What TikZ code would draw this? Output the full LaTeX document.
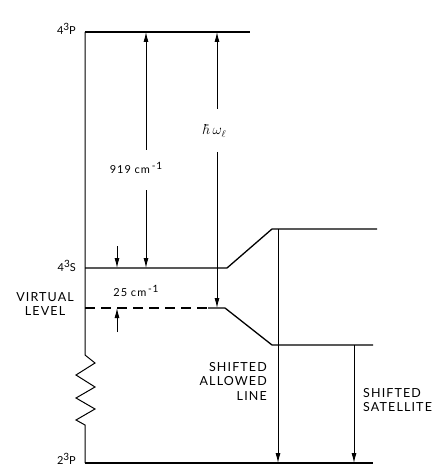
\documentclass[tikz,border=0pt]{standalone}
\usepackage{fontspec}
\setmainfont{Lato}
\newfontfamily\spfont[LetterSpace=9]{Lato}
\newcommand{\hsup}[1]{\raisebox{4pt}{\fontsize{10}{10}\selectfont #1}}
\usetikzlibrary{arrows.meta}
\tikzset{
  lvl/.style={line width=1.3pt},
  ln/.style={line width=1pt},
  arr/.style={line width=0.9pt,-{Latex[length=10pt,width=5pt]}},
  lbl/.style={font=\spfont\fontsize{12.5}{14.5}\selectfont, inner sep=0pt, align=center},
  slbl/.style={font=\spfont\fontsize{11}{13}\selectfont, inner sep=0pt},
}
\begin{document}
\begin{tikzpicture}[x=1pt,y=-1pt]
\useasboundingbox (0,0) rectangle (439,465);
% key coordinates
\coordinate (PL) at (85,32);
\coordinate (PR) at (250,32);
\coordinate (SL) at (85,268);
\coordinate (SK) at (227,268);
\coordinate (SU) at (272,229);
\coordinate (SR) at (377,229);
\coordinate (VL) at (85,308);
\coordinate (VD) at (208,308);
\coordinate (VK) at (225,308);
\coordinate (VU) at (272,345);
\coordinate (VR) at (373,345);
\coordinate (BL) at (85,463);
\coordinate (BR) at (373,463);
% levels
\draw[lvl] (PL) -- (PR);
\draw[lvl] (SL) -- (SK) -- (SU) -- (SR);
\draw[lvl,dash pattern=on 10pt off 6pt] (VL) -- (VD);
\draw[lvl] (VD) -- (VK) -- (VU) -- (VR);
\draw[lvl] (BL) -- (BR);
% left vertical with zigzag
\draw[ln] (PL) -- (85,355) -- (95,363) -- (76,375) -- (95,387) -- (76,398) -- (95,409) -- (76,420) -- (85,425) -- (BL);
% level labels
\node[slbl,anchor=base east] (lP) at (76,35) {4\hsup{3}P};
\node[slbl,anchor=base east] (lS) at (76,271) {4\hsup{3}S};
\node[lbl,anchor=east] (lV) at (74,304) {VIRTUAL\\LEVEL};
\node[slbl,anchor=base east] (lB) at (76,464) {2\hsup{3}P};
% 919 arrow
\node[slbl] (n919) at (136,168) {919 cm\,\hsup{-1}};
\coordinate (a1t) at (146,32);
\coordinate (a1m) at (146,150);
\coordinate (a1n) at (146,190);
\coordinate (a1b) at (146,268);
\draw[arr] (a1m) -- (a1t);
\draw[arr] (a1n) -- (a1b);
% hbar omega arrow
\node[inner sep=0pt,font=\fontsize{14}{16}\selectfont] (nhw) at (215,131) {$\hbar\,\omega_{\ell}$};
\coordinate (a2t) at (217,32);
\coordinate (a2m) at (217,109);
\coordinate (a2n) at (217,152);
\coordinate (a2b) at (217,308);
\draw[arr] (a2m) -- (a2t);
\draw[arr] (a2n) -- (a2b);
% 25 cm-1 arrows
\node[slbl] (n25) at (136,291) {25 cm\,\hsup{-1}};
\coordinate (s1t) at (117,246);
\coordinate (s1b) at (117,268);
\coordinate (s2t) at (117,308);
\coordinate (s2b) at (117,332);
\draw[arr] (s1t) -- (s1b);
\draw[arr] (s2b) -- (s2t);
% shifted lines
\coordinate (t1) at (278,229);
\coordinate (t1b) at (278,463);
\coordinate (t2) at (354,345);
\coordinate (t2b) at (354,463);
\draw[arr] (t1) -- (t1b);
\draw[arr] (t2) -- (t2b);
\node[lbl,align=right,anchor=north east] (nal) at (267,362) {SHIFTED\\ALLOWED\\LINE};
\node[lbl,align=left,anchor=north west] (nsat) at (363,388) {SHIFTED\\SATELLITE};
\end{tikzpicture}
\end{document}
